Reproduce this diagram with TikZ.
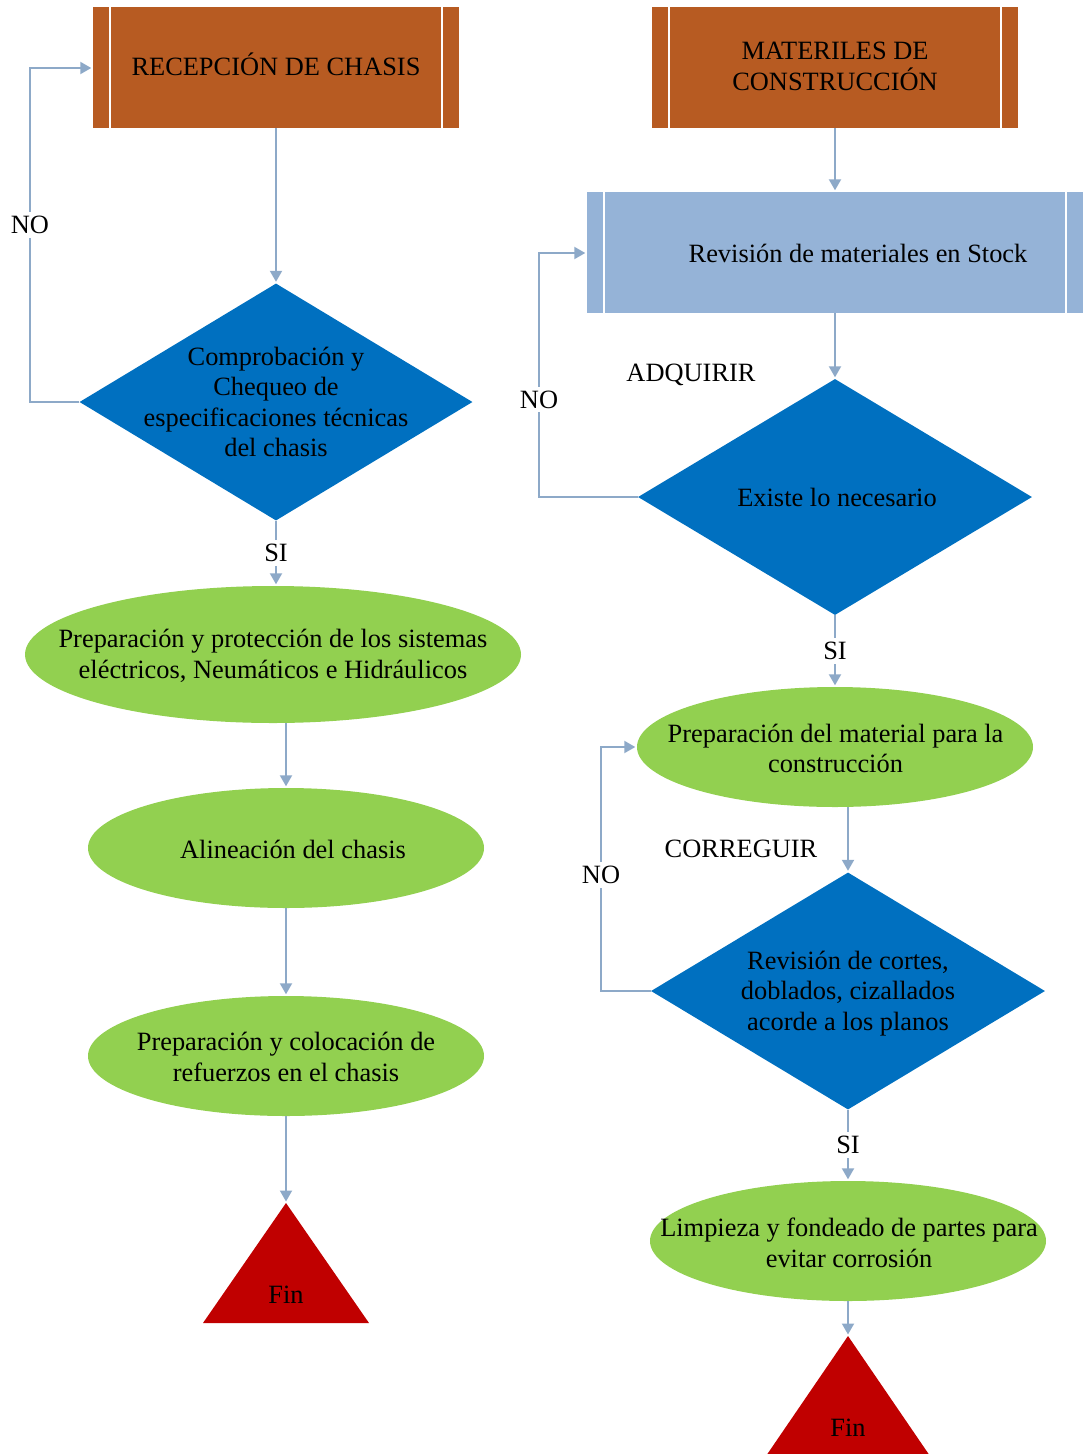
\documentclass[tikz,border=0pt]{standalone}
\usepackage{fontspec}
\setmainfont{Liberation Serif}
\usetikzlibrary{shapes.geometric,arrows.meta,calc}
\definecolor{procorange}{HTML}{B75B22}
\definecolor{stockblue}{HTML}{95B3D7}
\definecolor{diablue}{HTML}{0070C0}
\definecolor{actgreen}{HTML}{92D050}
\definecolor{finred}{HTML}{C00000}
\definecolor{linecol}{HTML}{8DA9C8}
\begin{document}
\begin{tikzpicture}[x=1pt,y=-1pt,
  txt/.style={font=\fontsize{26.4}{30.5}\selectfont, align=center, inner sep=0pt, text=black},
  procbox/.style={rectangle, draw=none, minimum width=#1, minimum height=121pt, inner sep=0pt, txt},
  decision/.style={diamond, fill=diablue, draw=none, inner sep=0pt},
  activity/.style={ellipse, fill=actgreen, draw=none, inner sep=0pt},
  sepline/.style={white, line width=2pt},
  conn/.style={draw=linecol, line width=2pt, shorten >=1.5pt, -{Triangle[length=11pt,width=12pt]}},
  lbl/.style={txt, fill=white, inner sep=4pt},
]
\useasboundingbox (0,0) rectangle (1085,1454);

% ---------- left column ----------
\node[procbox=366, fill=procorange] (b1) at (276,67.5) {};
\node[txt] (b1t) at (276,64.5) {RECEPCIÓN DE CHASIS};
\node[decision, minimum width=393, minimum height=237] (d1) at (276,402) {};
\node[txt] (d1t) at (d1) {Comprobación y\\Chequeo de\\especificaciones técnicas\\del chasis};
\node[activity, minimum width=496, minimum height=137] (e1) at (273,654.5) {};
\node[txt] (e1t) at (273,656) {Preparación y protección de los sistemas\\eléctricos, Neumáticos e Hidráulicos};
\node[activity, minimum width=396, minimum height=120] (e2) at (286,848) {};
\node[txt] (e2t) at (293,849) {Alineación del chasis};
\node[activity, minimum width=396, minimum height=120] (e3) at (286,1056) {};
\node[txt] (e3t) at (286,1057) {Preparación y colocación de\\refuerzos en el chasis};
\fill[finred] (286,1203) -- (369,1323) -- (203,1323) -- cycle;
\coordinate (t1) at (286,1203);
\node[txt] (t1t) at (286,1295) {Fin};

% ---------- right column ----------
\node[procbox=366, fill=procorange] (b2) at (835,67.5) {};
\node[txt] (b2t) at (835,66.5) {MATERILES DE\\CONSTRUCCIÓN};
\node[procbox=496, fill=stockblue] (b3) at (835,252.5) {};
\node[txt] (b3t) at (858,253) {Revisión de materiales en Stock};
\node[decision, minimum width=394, minimum height=236] (d2) at (835,497) {};
\node[txt] (d2t) at (837,497.5) {Existe lo necesario};
\node[activity, minimum width=396, minimum height=120] (e4) at (835,747) {};
\node[txt] (e4t) at (835.5,748.5) {Preparación del material para la\\construcción};
\node[decision, minimum width=394, minimum height=237] (d3) at (848,991) {};
\node[txt] (d3t) at (848,993.5) {Revisión de cortes,\\doblados, cizallados\\acorde a los planos};
\node[activity, minimum width=396, minimum height=120] (e5) at (848,1241) {};
\node[txt] (e5t) at (849,1243) {Limpieza y fondeado de partes para\\evitar corrosión};
\fill[finred] (848,1336) -- (930,1456) -- (766,1456) -- cycle;
\coordinate (t2) at (848,1336);
\node[txt] (t2t) at (848,1428) {Fin};

\node[txt] (adq) at (691,375) {ADQUIRIR};
\node[txt] (corr) at (741,849) {CORREGUIR};

% side bars of the predefined-process boxes
\foreach \b in {b1,b2,b3}{
  \draw[sepline] ([xshift=17.5pt]\b.north west) -- ([xshift=17.5pt]\b.south west);
  \draw[sepline] ([xshift=-17.5pt]\b.north east) -- ([xshift=-17.5pt]\b.south east);
}

% ---------- connectors, left ----------
\coordinate (n1a) at (30,402);
\coordinate (n1b) at (30,68);
\draw[conn] (b1.south) -- (d1.north);
\draw[conn] (d1.south) -- node[lbl] (si1) {SI} (d1.south |- e1.north);
\draw[conn] (e1.south -| e2.north) -- (e2.north);
\draw[conn] (e2.south) -- (e3.north);
\draw[conn] (e3.south) -- (t1);
\draw[conn] (d1.west) -- (n1a) -- node[lbl, pos=0.53] (no1) {NO} (n1b) -- (b1.west |- n1b);

% ---------- connectors, right ----------
\coordinate (n2a) at (539,497);
\coordinate (n2b) at (539,253);
\coordinate (n3a) at (601,991);
\coordinate (n3b) at (601,747);
\draw[conn] (b2.south) -- (b3.north);
\draw[conn] (b3.south) -- (d2.north);
\draw[conn] (d2.south) -- node[lbl] (si2) {SI} (e4.north);
\draw[conn] (e4.south -| d3.north) -- (d3.north);
\draw[conn] (d3.south) -- node[lbl] (si3) {SI} (e5.north);
\draw[conn] (e5.south) -- (t2);
\draw[conn] (d2.west) -- (n2a) -- node[lbl, pos=0.40] (no2) {NO} (n2b) -- (b3.west |- n2b);
\draw[conn] (d3.west) -- (n3a) -- node[lbl, pos=0.475] (no3) {NO} (n3b) -- (e4.west);
\end{tikzpicture}
\end{document}
